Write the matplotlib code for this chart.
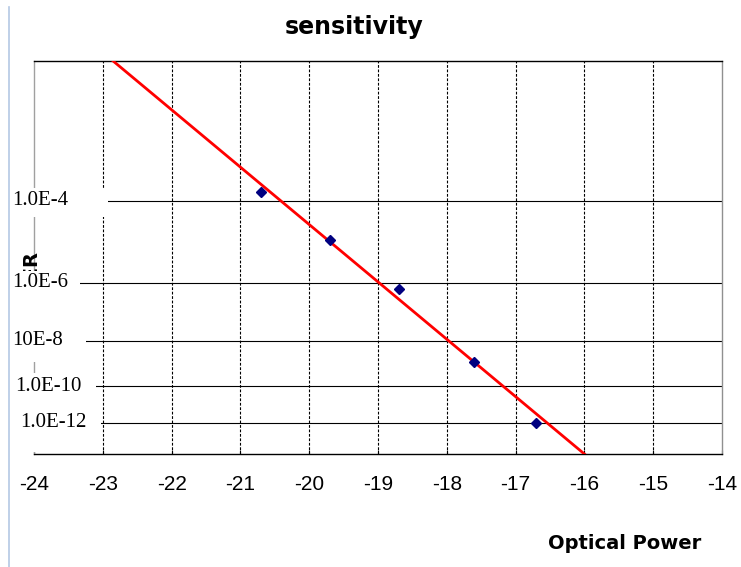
import numpy as np
import matplotlib
matplotlib.use("Agg")
import matplotlib.pyplot as plt
from matplotlib.patches import Rectangle
from matplotlib.lines import Line2D
from matplotlib.transforms import blended_transform_factory, Bbox, TransformedBbox

plt.rcParams['font.family'] = ['Liberation Sans', 'DejaVu Sans']
plt.rcParams['axes.unicode_minus'] = False

W, H = 741, 567

# measured points (dBm, BER)
power = [-20.7, -19.7, -18.7, -17.6, -16.7]
ber = [1.5e-4, 1.4e-5, 6.7e-7, 1.3e-9, 1.0e-12]
# trend line ends
trend_power = [-22.85, -16.0]
trend_ber = [1e-2, 1e-14]

ber_ticks = [1e-4, 1e-6, 1e-8, 1e-10, 1e-12]
ber_labels = ["1.0E-4", "1.0E-6", "10E-8", "1.0E-10", "1.0E-12"]
power_ticks = list(range(-24, -13))


def fwd(b):
    b = np.clip(np.asarray(b, dtype=float), 1e-300, 0.999999)
    return np.log10(-np.log10(b))


def inv(t):
    return 10.0 ** (-(10.0 ** np.asarray(t, dtype=float)))


fig = plt.figure(figsize=(W / 100, H / 100), dpi=100)
ax = fig.add_axes([34 / W, 1 - 454 / H, (722 - 34) / W, (454 - 61) / H])
ax.set_yscale('function', functions=(fwd, inv))
ax.set_xlim(-24, -14)
ax.set_ylim(1e-2, 1e-14)

ax.plot(trend_power, trend_ber, color='#ff0000', lw=2, zorder=3)
ax.plot(power, ber, 'D', color='#000080', ms=5, zorder=4)

ax.set_xticks(power_ticks)
ax.set_yticks(ber_ticks)
ax.minorticks_off()
ax.tick_params(axis='y', length=0, labelleft=False)
ax.tick_params(axis='x', direction='in', length=3, width=0.8, pad=15,
               labelsize=15, colors='black')

ax.grid(axis='y', color='black', lw=0.8, ls='-')
ax.grid(axis='x', color='black', lw=0.8, ls=(0, (2.5, 1.5)))
xt = ax.xaxis.get_major_ticks()
xt[0].gridline.set_visible(False)
xt[-1].gridline.set_visible(False)

ax.spines['top'].set_color('black')
ax.spines['bottom'].set_color('black')
ax.spines['left'].set_color('#a0a0a0')
ax.spines['right'].set_color('#909090')
for s in ax.spines.values():
    s.set_linewidth(1)

# axis title, only its upper part shows above the label box
ylab = fig.text(30.5 / W, 1 - 271.5 / H, 'BER', rotation=90, ha='center',
                va='center', fontsize=14, weight='bold', family='DejaVu Sans',
                zorder=0.5)
ylab.set_clip_box(TransformedBbox(Bbox([[0, 1 - 271 / H], [1, 1]]), fig.transFigure))
ylab.set_clip_on(True)

# white label boxes over the y axis
boxes = [(9, 188, 108, 217), (9, 271, 80, 327), (9, 327, 86, 362),
         (9, 373, 96, 405), (9, 405, 101, 452)]
for x0, y0, x1, y1 in boxes:
    fig.add_artist(Rectangle((x0 / W, 1 - y1 / H), (x1 - x0) / W, (y1 - y0) / H,
                             transform=fig.transFigure, facecolor='white',
                             edgecolor='none', zorder=1))

trans = blended_transform_factory(fig.transFigure, ax.transData)
lab_x = [12, 12, 12, 15, 20]
for v, s, lx in zip(ber_ticks, ber_labels, lab_x):
    fig.text(lx / W, v, s, transform=trans, ha='left', va='center',
             fontsize=15, family='Liberation Serif', zorder=3)

fig.text(354 / W, 1 - 34 / H, 'sensitivity', ha='center', va='baseline',
         fontsize=17, weight='bold', family='DejaVu Sans')
fig.text(625 / W, 1 - 549 / H, 'Optical Power', ha='center', va='baseline',
         fontsize=14, weight='bold', family='DejaVu Sans')

# window edge on the left
fig.add_artist(Line2D([8.5 / W, 8.5 / W], [0, 1 - 7 / H], color='#b4c8e4', lw=1.2))

fig.savefig('out.png', dpi=100)
